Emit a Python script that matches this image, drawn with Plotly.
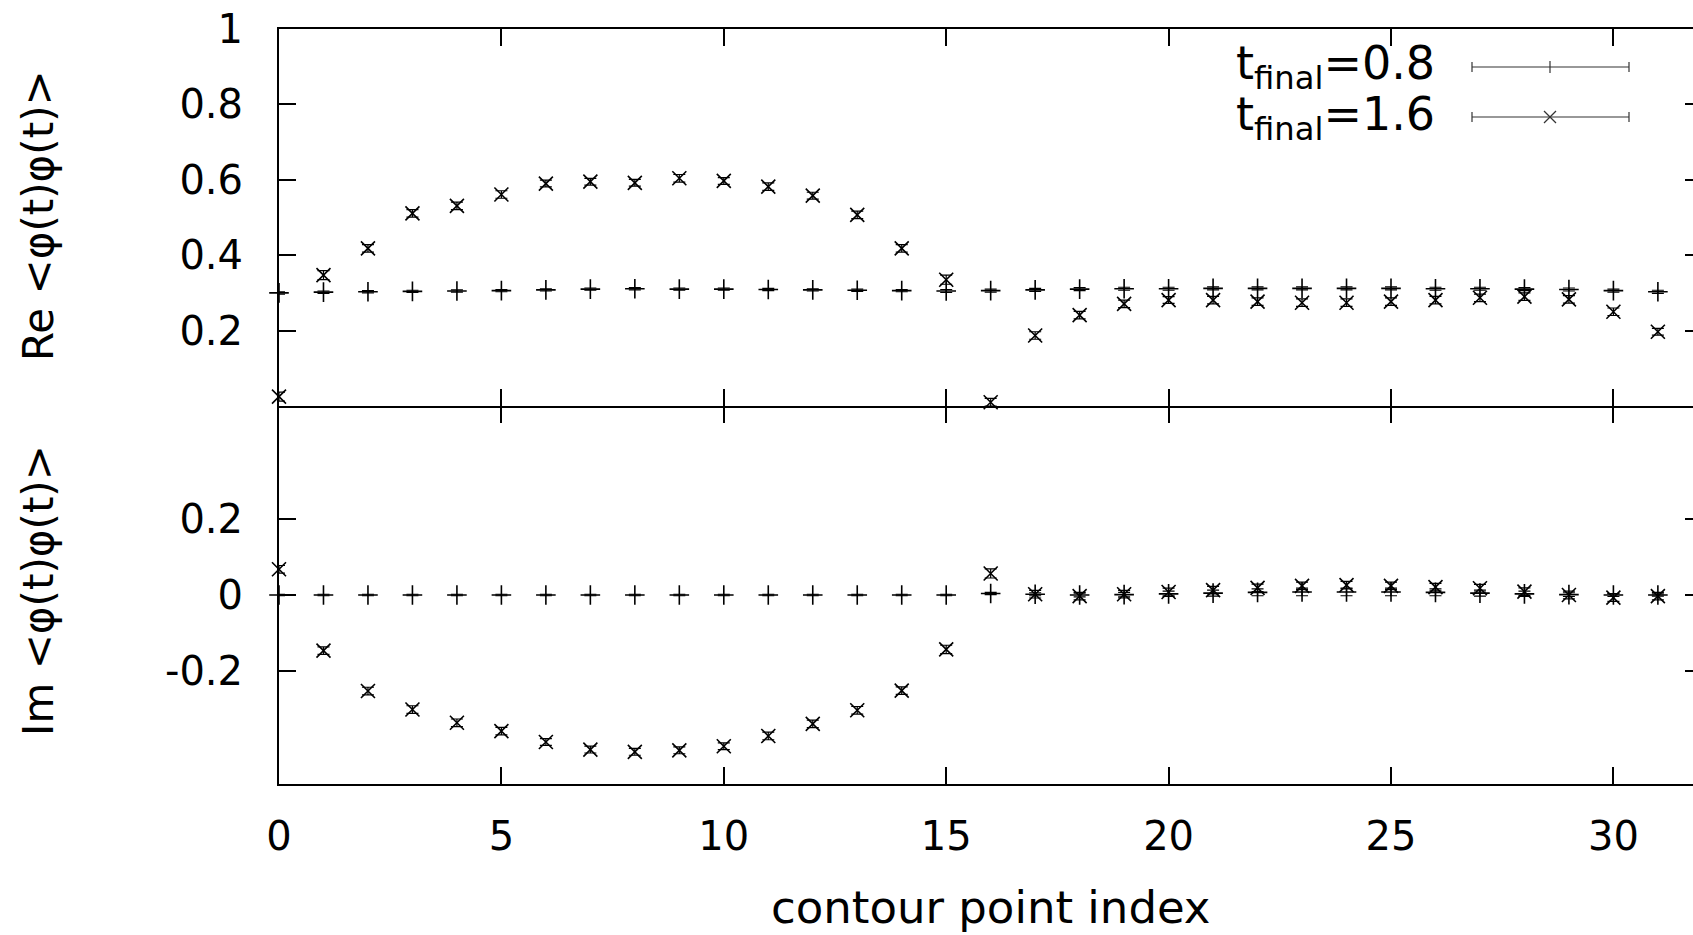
import plotly.graph_objects as go

# ---------------- data ----------------
idx = list(range(32))

re_t08 = [0.300, 0.302, 0.303, 0.304, 0.305, 0.306, 0.308, 0.310, 0.311, 0.310,
          0.310, 0.309, 0.308, 0.307, 0.306, 0.305, 0.306, 0.308, 0.310, 0.311,
          0.311, 0.312, 0.312, 0.312, 0.312, 0.312, 0.311, 0.311, 0.310, 0.309,
          0.306, 0.303]
re_t08_err = [0.003, 0.003, 0.003, 0.003, 0.003, 0.003, 0.003, 0.003, 0.003, 0.003,
              0.003, 0.003, 0.003, 0.003, 0.003, 0.004, 0.004, 0.004, 0.004, 0.004,
              0.004, 0.004, 0.004, 0.004, 0.004, 0.004, 0.004, 0.004, 0.004, 0.004,
              0.004, 0.004]

re_t16 = [0.025, 0.347, 0.418, 0.511, 0.531, 0.561, 0.590, 0.595, 0.592, 0.604,
          0.597, 0.582, 0.558, 0.507, 0.418, 0.335, 0.010, 0.187, 0.241, 0.271,
          0.281, 0.281, 0.277, 0.274, 0.274, 0.277, 0.281, 0.287, 0.290, 0.283,
          0.250, 0.197]
re_t16_err = [0.012, 0.012, 0.010, 0.010, 0.010, 0.010, 0.009, 0.009, 0.009, 0.010,
              0.009, 0.010, 0.009, 0.010, 0.010, 0.012, 0.010, 0.010, 0.010, 0.010,
              0.009, 0.010, 0.010, 0.010, 0.010, 0.010, 0.010, 0.010, 0.010, 0.010,
              0.010, 0.009]

im_t08 = [0.000, 0.000, 0.000, 0.000, 0.000, 0.000, 0.000, 0.000, 0.000, 0.000,
          0.000, 0.000, 0.000, 0.000, 0.000, 0.000, 0.004, 0.002, 0.000, 0.001,
          0.003, 0.005, 0.007, 0.008, 0.008, 0.008, 0.007, 0.005, 0.003, 0.001,
          0.000, 0.000]
im_t08_err = [0.002, 0.002, 0.002, 0.002, 0.002, 0.002, 0.002, 0.002, 0.002, 0.002,
              0.002, 0.002, 0.002, 0.002, 0.002, 0.002, 0.003, 0.004, 0.005, 0.006,
              0.007, 0.008, 0.009, 0.010, 0.010, 0.010, 0.009, 0.008, 0.007, 0.005,
              0.004, 0.003]

im_t16 = [0.068, -0.147, -0.254, -0.303, -0.338, -0.360, -0.389, -0.409, -0.415, -0.411,
          -0.400, -0.373, -0.341, -0.305, -0.253, -0.144, 0.057, 0.002, -0.003, 0.002,
          0.008, 0.013, 0.019, 0.024, 0.026, 0.024, 0.021, 0.018, 0.009, 0.000,
          -0.007, -0.003]
im_t16_err = [0.010, 0.010, 0.010, 0.010, 0.010, 0.010, 0.009, 0.009, 0.009, 0.009,
              0.009, 0.010, 0.010, 0.010, 0.010, 0.011, 0.012, 0.010, 0.010, 0.010,
              0.010, 0.010, 0.010, 0.010, 0.010, 0.010, 0.010, 0.010, 0.010, 0.010,
              0.010, 0.010]

x_ticks = [0, 5, 10, 15, 20, 25, 30]
re_ticks = [0.2, 0.4, 0.6, 0.8, 1.0]
re_ticktext = ["0.2", "0.4", "0.6", "0.8", "1"]
im_ticks = [-0.2, 0.0, 0.2]
im_ticktext = ["-0.2", "0", "0.2"]

legend_labels = ["t<sub>final</sub>=0.8", "t<sub>final</sub>=1.6"]

# ---------------- layout constants ----------------
W, H = 1693, 935
ML, MT, MB, MR = 279, 29, 151, 0
PLOT_H = H - MT - MB
SPLIT = (784 - 406) / PLOT_H
FONT = "DejaVu Sans"

fig = go.Figure()


def add_series(x, y, err, symbol, xa, ya):
    fig.add_trace(go.Scatter(
        x=x, y=y, mode="markers", xaxis=xa, yaxis=ya, cliponaxis=False,
        showlegend=False,
        marker=dict(symbol=symbol, size=14, color="black",
                    line=dict(color="black", width=1.6)),
        error_y=dict(type="data", array=err, color="black", thickness=1.2, width=6),
    ))


add_series(idx, re_t08, re_t08_err, "cross-thin", "x2", "y")
add_series(idx, re_t16, re_t16_err, "x-thin", "x2", "y")
add_series(idx, im_t08, im_t08_err, "cross-thin", "x", "y2")
add_series(idx, im_t16, im_t16_err, "x-thin", "x", "y2")
# empty carriers for the extra tick-only axes
fig.add_trace(go.Scatter(x=[], y=[], xaxis="x2", yaxis="y3", showlegend=False))
fig.add_trace(go.Scatter(x=[], y=[], xaxis="x", yaxis="y4", showlegend=False))
fig.add_trace(go.Scatter(x=[], y=[], xaxis="x3", yaxis="y2", showlegend=False))

common = dict(showline=True, linecolor="black", linewidth=2, ticks="inside",
              ticklen=17, tickwidth=2, tickcolor="black", showgrid=False,
              zeroline=False, automargin=False,
              tickfont=dict(family=FONT, size=40, color="black"))

tick_only = dict(ticks="inside", tickwidth=2, tickcolor="black", showline=False,
                 showticklabels=False, showgrid=False, zeroline=False)

x_range = [0, (W - ML - MR) / 44.48]

fig.update_layout(
    width=W, height=H,
    margin=dict(l=ML, r=MR, t=MT, b=MB),
    paper_bgcolor="white", plot_bgcolor="white",
    font=dict(family=FONT, color="black"),
    xaxis=dict(**common, domain=[0, 1], anchor="y2", range=x_range,
               tickvals=x_ticks, mirror=False, ticklabelstandoff=16),
    xaxis2=dict(**common, domain=[0, 1], anchor="y", matches="x",
                range=x_range, tickvals=x_ticks, mirror="ticks",
                showticklabels=False),
    xaxis3=dict(**tick_only, overlaying="x", side="top", anchor="y2",
                range=x_range, tickvals=x_ticks, ticklen=17),
    yaxis=dict(**common, domain=[SPLIT, 1], anchor="x2", range=[0, 1],
               tickvals=re_ticks, ticktext=re_ticktext, ticklabelstandoff=26),
    yaxis2=dict(**common, domain=[0, SPLIT], anchor="x", range=[-0.5, 0.5],
                tickvals=im_ticks, ticktext=im_ticktext, ticklabelstandoff=26),
    yaxis3=dict(**tick_only, overlaying="y", side="right", anchor="x2",
                range=[0, 1], tickvals=re_ticks[:-1], ticklen=8),
    yaxis4=dict(**tick_only, overlaying="y2", side="right", anchor="x",
                range=[-0.5, 0.5], tickvals=im_ticks, ticklen=8),
)


def px_x(p):
    return (p - ML) / (W - ML - MR)


def px_y(p):
    return 1 - (p - MT) / PLOT_H


# axis titles
fig.add_annotation(text="contour point index", xref="paper", yref="paper",
                   x=px_x(990), y=px_y(908), xanchor="center", yanchor="middle",
                   showarrow=False, font=dict(family=FONT, size=45, color="black"))
fig.add_annotation(text="Re &lt;φ(t)φ(t)&gt;", xref="paper", yref="paper",
                   x=px_x(38), y=px_y(216), xanchor="center", yanchor="middle",
                   textangle=-90, showarrow=False,
                   font=dict(family=FONT, size=42, color="black"))
fig.add_annotation(text="Im &lt;φ(t)φ(t)&gt;", xref="paper", yref="paper",
                   x=px_x(38), y=px_y(591), xanchor="center", yanchor="middle",
                   textangle=-90, showarrow=False,
                   font=dict(family=FONT, size=42, color="black"))

# legend (text left, sample with error bar on the right)
rows_text_y = [67, 117]
rows_line_y = [67, 117]
x0, x1, xm = px_x(1472), px_x(1629), px_x(1550)
cap = 5 / PLOT_H
mx, my = 6 / (W - ML - MR), 6 / PLOT_H
for k, lab in enumerate(legend_labels):
    fig.add_annotation(text=lab, xref="paper", yref="paper",
                       x=px_x(1437), y=px_y(rows_text_y[k]), xanchor="right",
                       yanchor="middle", showarrow=False,
                       font=dict(family=FONT, size=46, color="black"))
    yl = px_y(rows_line_y[k])
    ln = dict(color="#333333", width=1.2)
    fig.add_shape(type="line", xref="paper", yref="paper", x0=x0, x1=x1, y0=yl, y1=yl, line=ln)
    fig.add_shape(type="line", xref="paper", yref="paper", x0=x0, x1=x0, y0=yl - cap, y1=yl + cap, line=ln)
    fig.add_shape(type="line", xref="paper", yref="paper", x0=x1, x1=x1, y0=yl - cap, y1=yl + cap, line=ln)
    if k == 0:
        fig.add_shape(type="line", xref="paper", yref="paper", x0=xm, x1=xm, y0=yl - my, y1=yl + my, line=ln)
    else:
        fig.add_shape(type="line", xref="paper", yref="paper", x0=xm - mx, x1=xm + mx, y0=yl - my, y1=yl + my, line=ln)
        fig.add_shape(type="line", xref="paper", yref="paper", x0=xm - mx, x1=xm + mx, y0=yl + my, y1=yl - my, line=ln)

fig.write_html("out.html", config={"displayModeBar": False},
               post_script="document.body.style.margin='0';document.body.style.overflow='hidden';")
